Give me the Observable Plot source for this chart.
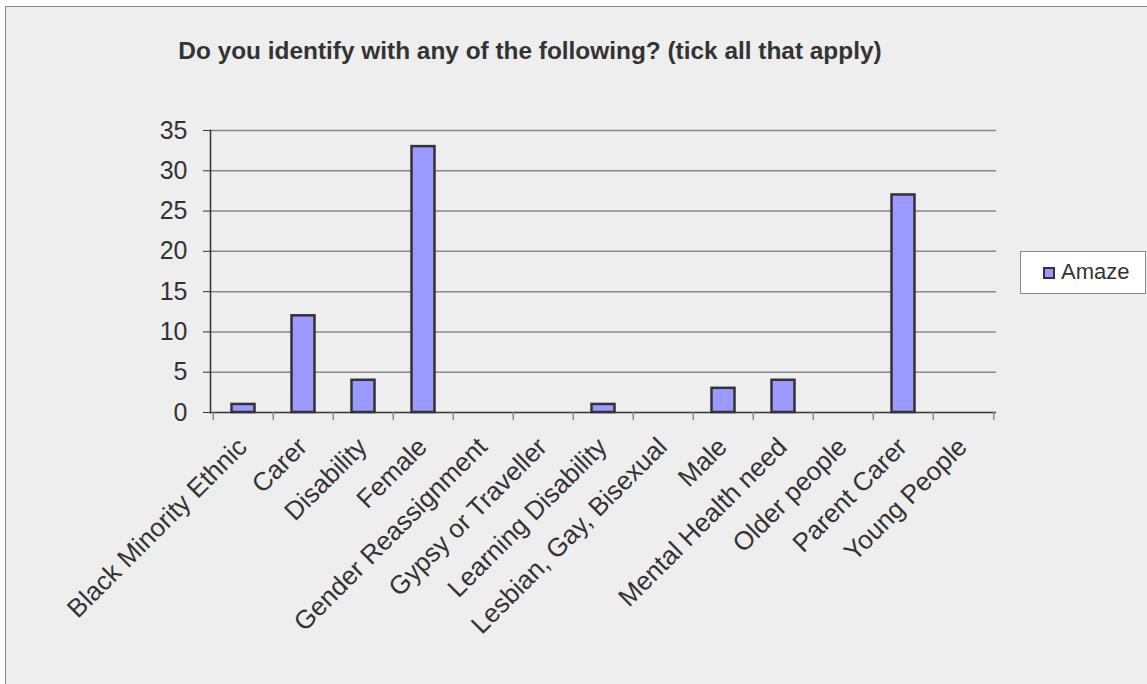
<!DOCTYPE html>
<html>
<head>
<meta charset="utf-8">
<script src="https://cdn.jsdelivr.net/npm/d3@7"></script>
<script src="https://cdn.jsdelivr.net/npm/@observablehq/plot@0.6"></script>
<style>
  html, body { margin: 0; padding: 0; background: #ffffff; overflow: hidden; }
  body { width: 1147px; height: 684px; position: relative; font-family: "Liberation Sans", Arial, sans-serif; }
  #frame { position: absolute; left: 5px; top: 6px; width: 1200px; height: 720px; background: #eeeeee; border: 1.5px solid #888; box-sizing: border-box; }
  #chart { position: absolute; left: 0; top: 0; }
  #title { position: absolute; left: 0; width: 1060px; top: 39px; text-align: center; font-size: 24.4px; line-height: 24px; font-weight: bold; color: #333; white-space: nowrap; }
  #legend { position: absolute; left: 1020px; top: 251px; width: 126px; height: 43px; background: #fff; border: 1px solid #888; box-sizing: border-box; }
  #legend .sw { position: absolute; left: 22px; top: 15px; width: 12px; height: 12px; background: #9999ff; border: 2px solid #333; box-sizing: border-box; }
  #legend .lb { position: absolute; left: 40px; top: 8px; font-size: 22px; line-height: 24px; color: #333; }
</style>
</head>
<body>
<div id="frame"></div>
<div id="chart"></div>
<div id="title">Do you identify with any of the following? (tick all that apply)</div>
<div id="legend"><div class="sw"></div><div class="lb" id="legendLabel"></div></div>
<script>
const categories = ["Black Minority Ethnic", "Carer", "Disability", "Female", "Gender Reassignment", "Gypsy or Traveller", "Learning Disability", "Lesbian, Gay, Bisexual", "Male", "Mental Health need", "Older people", "Parent Carer", "Young People"];
const values = [1, 12, 4, 33, 0, 0, 1, 0, 3, 4, 0, 27, 0];
const yTicks = [0, 5, 10, 15, 20, 25, 30, 35];
const seriesName = "Amaze";

document.getElementById("legendLabel").textContent = seriesName;

const data = categories.map((c, i) => ({category: c, value: values[i]}));
const W = 1147, H = 684, ML = 210, MR = 151, MT = 130, MB = 272;
const bw = (W - ML - MR) / categories.length;

const chart = Plot.plot({
  width: W,
  height: H,
  marginLeft: ML,
  marginRight: MR,
  marginTop: MT,
  marginBottom: MB,
  style: {background: "transparent", fontFamily: "'Liberation Sans', Arial, sans-serif", color: "#333", overflow: "visible"},
  x: {type: "band", domain: categories, padding: 0, axis: null},
  y: {domain: [0, 35], axis: null},
  marks: [
    Plot.ruleY(yTicks.filter(d => d > 0), {stroke: "#888", strokeWidth: 1.5, strokeOpacity: 1}),
    Plot.barY(data.filter(d => d.value > 0), {x: "category", y: "value", fill: "#9999ff", stroke: "#333", strokeWidth: 2.5, insetLeft: 18.5, insetRight: 18.5}),
    Plot.ruleY([0], {stroke: "#333", strokeWidth: 1.5}),
    Plot.axisY({ticks: yTicks, tickSize: 7, tickPadding: 16, fontSize: 25, stroke: "#333", fill: "#333", label: null}),
    Plot.frame({anchor: "left", stroke: "#333", strokeWidth: 1.5}),
    Plot.ruleX(categories, {x: d => d, y1: 0, y2: -1, dx: -bw / 2, stroke: "#888", strokeWidth: 1.5}),
    Plot.ruleX(categories.slice(-1), {x: d => d, y1: 0, y2: -1, dx: bw / 2, stroke: "#888", strokeWidth: 1.5}),
    Plot.text(categories, {x: d => d, y: 0, text: d => d, rotate: -45, textAnchor: "end", lineAnchor: "bottom", dx: 5, dy: 36, fontSize: 26, fill: "#333"})
  ]
});
document.getElementById("chart").appendChild(chart);
</script>
</body>
</html>
